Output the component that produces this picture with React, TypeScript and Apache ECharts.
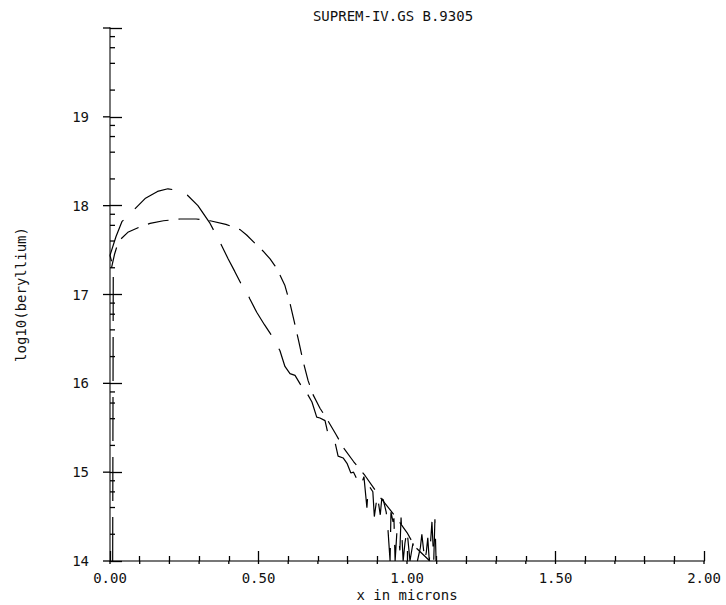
import React, { useEffect, useRef } from "react";
import * as echarts from "echarts";

const titleText = "SUPREM-IV.GS B.9305";
const xAxisTitle = "x in microns";
const yAxisTitle = "log10(beryllium)";

const xTickLabels = ["0.00", "0.50", "1.00", "1.50", "2.00"];
const yTickLabels = ["14", "15", "16", "17", "18", "19"];
const yDecades = [14, 15, 16, 17, 18, 19];
const yMinorMultipliers = [2, 4, 6, 8];
const yMajorTicks = [14, 15, 16, 17, 18, 19, 20];
const xMajorTicks = [0, 0.5, 1.0, 1.5, 2.0];
const xMinorTicks = [0.1, 0.2, 0.3, 0.4, 0.6, 0.7, 0.8, 0.9, 1.1, 1.2, 1.3, 1.4, 1.6, 1.7, 1.8, 1.9];

// measured (noisy) profile
const measuredX = [
  0.009, 0.011, 0.0, 0.02, 0.04, 0.077, 0.118, 0.16, 0.195, 0.23, 0.26, 0.296, 0.337, 0.373, 0.398,
  0.42, 0.44, 0.45, 0.471, 0.494, 0.52, 0.54, 0.572, 0.589, 0.606, 0.623, 0.646, 0.657, 0.663, 0.68,
  0.696, 0.707, 0.724, 0.737, 0.758, 0.768, 0.785, 0.798, 0.811, 0.82, 0.83, 0.84, 0.85, 0.855, 0.865,
  0.87, 0.875, 0.885, 0.89, 0.9, 0.91, 0.915, 0.92, 0.93, 0.936, 0.943, 0.946, 0.953, 0.956, 0.96,
  0.966, 0.973, 0.976, 0.98, 0.987, 0.993, 1.0, 1.01, 1.02, 1.027, 1.035, 1.045, 1.05, 1.06, 1.065,
  1.07, 1.075, 1.084, 1.09, 1.094, 1.098,
];
const measuredY = [
  14.0, 17.3, 17.44, 17.65, 17.82, 17.94, 18.08, 18.16, 18.19, 18.17, 18.12, 18.0, 17.8, 17.57, 17.4,
  17.26, 17.13, 17.1, 16.95, 16.8, 16.66, 16.56, 16.37, 16.19, 16.11, 16.09, 15.96, 15.98, 15.89, 15.79,
  15.62, 15.61, 15.58, 15.39, 15.33, 15.18, 15.16, 15.1, 14.99, 15.0, 14.93, 14.99, 14.9, 14.95, 14.6,
  14.85, 14.83, 14.78, 14.5, 14.74, 14.52, 14.7, 14.69, 14.55, 14.35, 14.0, 14.55, 14.44, 14.48, 14.0,
  14.33, 14.24, 14.12, 14.49, 14.0, 14.2, 14.35, 14.0, 14.2, 14.05, 14.0, 14.15, 14.3, 14.0, 14.1,
  14.26, 14.0, 14.44, 14.0, 14.47, 14.0,
];

// simulated profile
const simulatedX = [
  0.005, 0.015, 0.025, 0.035, 0.06, 0.1, 0.135, 0.18, 0.236, 0.29, 0.337, 0.39, 0.438, 0.46, 0.49,
  0.515, 0.539, 0.556, 0.572, 0.589, 0.606, 0.62, 0.635, 0.65, 0.667, 0.684, 0.707, 0.73, 0.76, 0.785,
  0.82, 0.859, 0.909, 0.966, 1.0, 1.027, 1.077,
];
const simulatedY = [
  17.3, 17.45, 17.56, 17.62, 17.7, 17.76, 17.8, 17.83, 17.85, 17.85, 17.83, 17.79, 17.73, 17.67, 17.57,
  17.49, 17.4, 17.32, 17.22, 17.1, 16.9, 16.7, 16.48, 16.25, 16.03, 15.87, 15.72, 15.6, 15.43, 15.28,
  15.12, 14.96, 14.72, 14.48, 14.32, 14.16, 14.0,
];

const FONT = "DejaVu Sans Mono";

export default function App() {
  const ref = useRef<HTMLDivElement>(null);

  useEffect(() => {
    if (!ref.current) return;
    const chart = echarts.init(ref.current, undefined, { renderer: "svg" });

    const yMinorTicks = yDecades.flatMap((d) => yMinorMultipliers.map((m) => d + Math.log10(m)));
    const tickData: number[][] = [
      ...yMajorTicks.map((v) => [0, v, 0]),
      ...yMinorTicks.map((v) => [0, v, 1]),
      ...xMajorTicks.map((v) => [v, 14, 2]),
      ...xMinorTicks.map((v) => [v, 14, 3]),
    ];

    const option: any = {
      animation: false,
      backgroundColor: "#ffffff",
      grid: { left: 110, right: 22, top: 28, bottom: 44, containLabel: false, outerBoundsMode: "none" },
      graphic: [
        {
          type: "text",
          x: 393,
          y: 16,
          style: {
            text: titleText,
            font: `14px "${FONT}"`,
            fill: "#111",
            textAlign: "center",
            textVerticalAlign: "middle",
          },
        },
      ],
      xAxis: {
        type: "value",
        min: 0,
        max: 2,
        interval: 0.5,
        name: xAxisTitle,
        nameLocation: "middle",
        nameGap: 27,
        nameMoveOverlap: false,
        nameTextStyle: { fontFamily: FONT, fontSize: 14, lineHeight: 14, color: "#111" },
        axisLine: { show: true, lineStyle: { color: "#777", width: 2 } },
        axisTick: { show: true, inside: true, length: 10, lineStyle: { color: "#000", width: 1.3 } },
        minorTick: { show: true, splitNumber: 5, length: 5, lineStyle: { color: "#000", width: 1.3 } },
        splitLine: { show: false },
        axisLabel: {
          margin: 10,
          fontFamily: FONT,
          fontSize: 14,
          lineHeight: 14,
          color: "#111",
          formatter: (v: number) => {
            const i = xMajorTicks.indexOf(v);
            return i >= 0 ? xTickLabels[i] : "";
          },
        },
      },
      yAxis: {
        type: "value",
        min: 14,
        max: 20,
        interval: 1,
        name: yAxisTitle,
        nameLocation: "middle",
        nameRotate: 90,
        nameGap: 82,
        nameMoveOverlap: false,
        nameTextStyle: { fontFamily: FONT, fontSize: 14, color: "#111" },
        axisLine: { show: true, lineStyle: { color: "#777", width: 2 } },
        axisTick: { show: true, inside: true, length: 12, lineStyle: { color: "#000", width: 1.3 } },
        splitLine: { show: false },
        axisLabel: {
          margin: 21,
          fontFamily: FONT,
          fontSize: 14,
          color: "#111",
          formatter: (v: number) => {
            const i = yDecades.indexOf(v);
            return i >= 0 ? yTickLabels[i] : "";
          },
        },
      },
      series: [
        {
          name: "measured",
          type: "line",
          data: measuredX.map((x, i) => [x, measuredY[i]]),
          showSymbol: false,
          symbol: "none",
          lineStyle: { color: "#000", width: 1.2, type: [44, 16] },
          z: 3,
        },
        {
          name: "simulated",
          type: "line",
          data: simulatedX.map((x, i) => [x, simulatedY[i]]),
          showSymbol: false,
          symbol: "none",
          lineStyle: { color: "#000", width: 1.2, type: [21, 10] },
          z: 3,
        },
        {
          name: "ticks",
          type: "custom",
          clip: false,
          silent: true,
          data: tickData,
          renderItem: (_params: any, api: any) => {
            const p = api.coord([api.value(0), api.value(1)]);
            const kind = api.value(2);
            let shape;
            if (kind === 0) shape = { x1: p[0] - 7, y1: p[1], x2: p[0], y2: p[1] };
            else if (kind === 1) shape = { x1: p[0], y1: p[1], x2: p[0] + 5, y2: p[1] };
            else shape = { x1: p[0], y1: p[1], x2: p[0], y2: p[1] + 3 };
            return {
              type: "line",
              shape,
              style: { stroke: "#000", lineWidth: 1.3 },
            };
          },
          z: 4,
        },
      ],
    };

    chart.setOption(option);
    return () => chart.dispose();
  }, []);

  return (
    <div
      ref={ref}
      style={{ position: "fixed", left: 0, top: 0, width: 726, height: 605, background: "#fff" }}
    />
  );
}
